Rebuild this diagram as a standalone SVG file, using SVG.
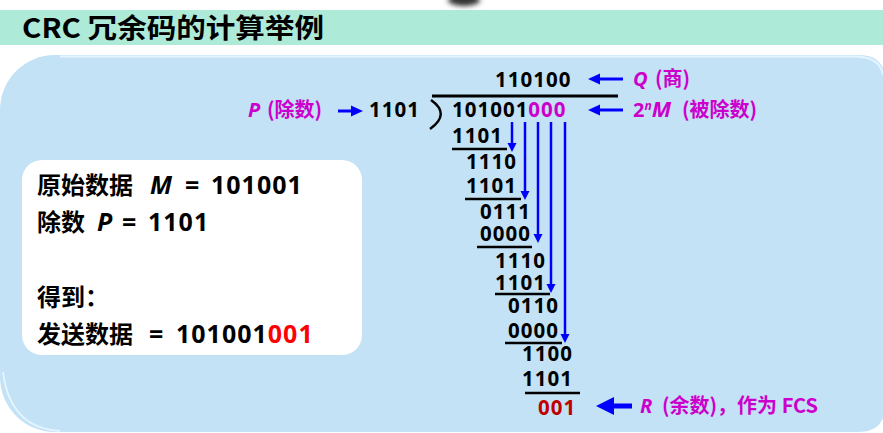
<svg xmlns="http://www.w3.org/2000/svg" width="883" height="433" viewBox="0 0 883 433">
<style>
.cn{font-family:"Noto Sans CJK SC","Noto Sans",sans-serif;font-weight:bold}
.num{font-family:"Noto Sans","Noto Sans CJK SC",sans-serif;font-weight:bold;font-size:20.5px;letter-spacing:1px;fill:#000}
.lbl{font-family:"Noto Sans","Noto Sans CJK SC",sans-serif;font-weight:bold;font-size:20px;fill:#cc00cc}
.cnl{font-family:"Noto Sans CJK SC",sans-serif;font-weight:bold}
.it{font-style:italic}
.box{font-family:"Noto Sans","Noto Sans CJK SC",sans-serif;font-weight:bold;font-size:25px;fill:#000}
.dg{letter-spacing:1px}
.boxcn{font-family:"Noto Sans CJK SC",sans-serif;font-size:24px}
.ul{stroke:#000;stroke-width:2.5}
.va{stroke:#0000ff;stroke-width:2.5;fill:none}
.ha{stroke:#0000ff;stroke-width:3}
.bh{fill:#0000ff}
</style>
<defs>
<filter id="blur" x="-50%" y="-50%" width="200%" height="200%"><feGaussianBlur stdDeviation="2.5"/></filter>
</defs>
<rect x="0" y="0" width="883" height="433" fill="#ffffff"/>
<ellipse cx="464" cy="0" rx="16" ry="6" fill="#333" filter="url(#blur)"/>
<g id="titlebar">
<rect x="0" y="10" width="883" height="35" fill="#aeead8"/>
<text x="22" y="38" class="cn" font-size="27" textLength="302" lengthAdjust="spacingAndGlyphs" fill="#000">CRC 冗余码的计算举例</text>
</g>
<g id="panel">
<path d="M55,55 H858 Q885,55 885,80 V405 Q885,432 858,432 H55 A55,55 0 0 1 0,377 V110 A55,55 0 0 1 55,55 Z" fill="#c3e2f6"/>
<path d="M60,56.5 H856 Q880,57 883,75" fill="none" stroke="#e6f4ff" stroke-width="2"/>
<path d="M3,372 Q10,428 60,431" fill="none" stroke="#e6f4ff" stroke-width="2"/>
</g>
<g id="infobox">
<rect x="22" y="160" width="340" height="195" rx="20" fill="#ffffff"/>
<text y="194" class="box"><tspan x="37" class="boxcn">原始数据</tspan><tspan x="150" class="it">M</tspan><tspan x="185">=</tspan><tspan x="211" class="dg">101001</tspan></text>
<text y="231" class="box"><tspan x="37" class="boxcn">除数</tspan><tspan x="97" class="it">P</tspan><tspan x="122">=</tspan><tspan x="148" class="dg">1101</tspan></text>
<text y="306" class="box"><tspan x="37" class="boxcn">得到：</tspan></text>
<text y="343" class="box"><tspan x="37" class="boxcn">发送数据</tspan><tspan x="149">=</tspan><tspan x="176" class="dg">101001<tspan style="fill:#ff0000">001</tspan></tspan></text>
</g>
<g id="division">
<text x="495" y="87" class="num">110100</text>
<text x="369" y="117" class="num">1101</text>
<text x="452" y="117" class="num">101001<tspan style="fill:#cc00cc">000</tspan></text>
<path d="M432,96 H618" stroke="#000" stroke-width="3"/>
<path d="M431,100 Q451,114 430,129" fill="none" stroke="#000" stroke-width="2.5"/>
<text x="452" y="143" class="num">1101</text>
<line x1="452" y1="149" x2="507" y2="149" class="ul"/>
<text x="466" y="169" class="num">1110</text>
<text x="466" y="193" class="num">1101</text>
<line x1="465" y1="199" x2="521" y2="199" class="ul"/>
<text x="480" y="219" class="num">0111</text>
<text x="480" y="241" class="num">0000</text>
<line x1="477" y1="247" x2="532" y2="247" class="ul"/>
<text x="495" y="268" class="num">1110</text>
<text x="495" y="290" class="num">1101</text>
<line x1="495" y1="294" x2="550" y2="294" class="ul"/>
<text x="508" y="313" class="num">0110</text>
<text x="508" y="338" class="num">0000</text>
<line x1="505" y1="343" x2="562" y2="343" class="ul"/>
<text x="522" y="361" class="num">1100</text>
<text x="522" y="386" class="num">1101</text>
<line x1="525" y1="393" x2="580" y2="393" class="ul"/>
<text x="538" y="415" class="num" style="fill:#c00000">001</text>
</g>
<g id="connectors">
<line x1="512" y1="122" x2="512" y2="144" class="va"/><polygon points="512,152 507.5,143 516.5,143" class="bh"/>
<line x1="525" y1="122" x2="525" y2="192" class="va"/><polygon points="525,200 520.5,191 529.5,191" class="bh"/>
<line x1="538" y1="122" x2="538" y2="235" class="va"/><polygon points="538,243 533.5,234 542.5,234" class="bh"/>
<line x1="551" y1="122" x2="551" y2="285" class="va"/><polygon points="551,293 546.5,284 555.5,284" class="bh"/>
<line x1="565" y1="122" x2="565" y2="335" class="va"/><polygon points="565,343 560.5,334 569.5,334" class="bh"/>
<line x1="598" y1="79" x2="623" y2="79" class="ha"/><polygon points="588,79 600,73.5 600,84.5" class="bh"/>
<line x1="598" y1="110" x2="623" y2="110" class="ha"/><polygon points="588,110 600,104.5 600,115.5" class="bh"/>
<line x1="338" y1="111" x2="353" y2="111" class="ha"/><polygon points="363,111 351,105.5 351,116.5" class="bh"/>
<line x1="612" y1="406" x2="632" y2="406" stroke="#0000ff" stroke-width="5"/><polygon points="596,406 614,397 614,415" class="bh"/>
</g>
<g id="labels">
<text y="117" class="lbl"><tspan x="248" class="it">P</tspan><tspan x="267" class="cnl">(除数)</tspan></text>
<text y="86" class="lbl"><tspan x="633" class="it">Q</tspan><tspan x="655" class="cnl">(商)</tspan></text>
<text y="117" class="lbl"><tspan x="633">2</tspan><tspan class="it" font-size="12" dy="-7">n</tspan><tspan class="it" font-size="22" dy="7">M</tspan><tspan x="682" class="cnl">(被除数)</tspan></text>
<text y="413" class="lbl"><tspan x="640" class="it">R</tspan><tspan x="662" class="cnl">(余数)，作为 FCS</tspan></text>
</g>
</svg>
